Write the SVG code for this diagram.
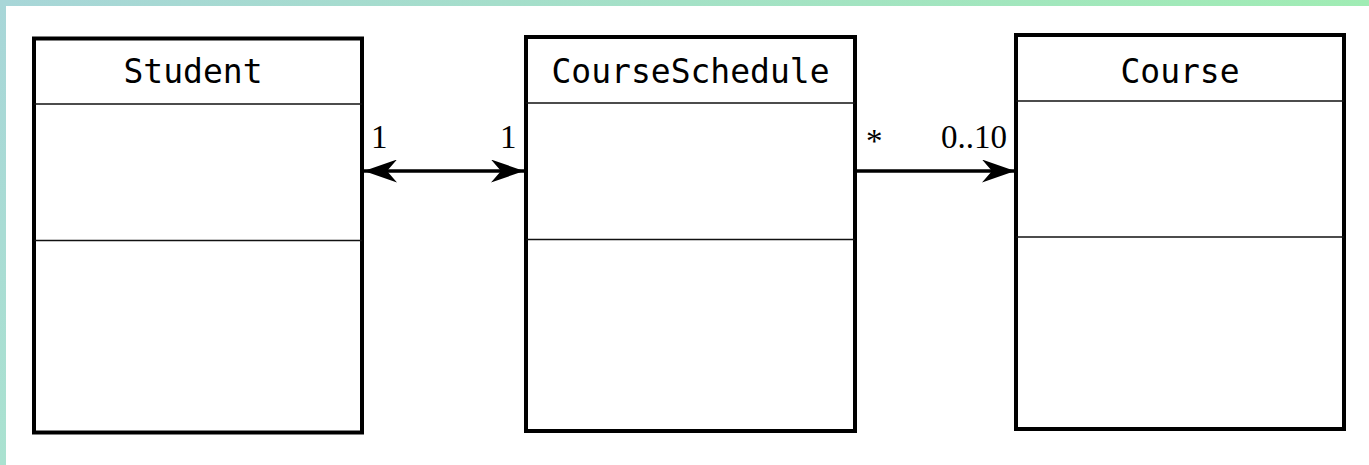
<svg xmlns="http://www.w3.org/2000/svg" width="1369" height="465" viewBox="0 0 1369 465">
  <defs>
    <linearGradient id="edgeTop" gradientUnits="userSpaceOnUse" x1="0" y1="0" x2="1369" y2="0">
      <stop offset="0" stop-color="#a8d6d8"/>
      <stop offset="1" stop-color="#a0ecb4"/>
    </linearGradient>
    <linearGradient id="edgeLeft" gradientUnits="userSpaceOnUse" x1="0" y1="0" x2="0" y2="465">
      <stop offset="0" stop-color="#a8d6d8"/>
      <stop offset="1" stop-color="#aae2d0"/>
    </linearGradient>
    <marker id="head" viewBox="0 0 33 23" refX="33" refY="11.5" markerWidth="33" markerHeight="23" markerUnits="userSpaceOnUse" orient="auto-start-reverse">
      <path d="M0,0 L33,11.5 L0,23 L10,11.5 Z" fill="#000"/>
    </marker>
    <style>
      .box { fill: #fff; stroke: #000; stroke-width: 4; }
      .sep { stroke: #111; stroke-width: 1.6; }
      .name { font-family: "DejaVu Sans Mono", monospace; font-size: 33px; fill: #000; text-anchor: middle; }
      .mult { font-family: "Liberation Serif", serif; font-size: 33px; fill: #000; }
      .assoc { stroke: #000; stroke-width: 3.5; fill: none; }
    </style>
  </defs>

  <!-- page frame -->
  <rect x="0" y="0" width="1369" height="465" fill="#fff"/>
  <rect x="0" y="0" width="1369" height="6" fill="url(#edgeTop)"/>
  <rect x="0" y="0" width="6" height="465" fill="url(#edgeLeft)"/>

  <g id="student">
    <rect class="box" x="34" y="38.5" width="328" height="394"/>
    <line class="sep" x1="34" y1="104" x2="362" y2="104"/>
    <line class="sep" x1="34" y1="240.5" x2="362" y2="240.5"/>
    <text class="name" x="193" y="83">Student</text>
  </g>

  <g id="courseSchedule">
    <rect class="box" x="526" y="37" width="329" height="394"/>
    <line class="sep" x1="526" y1="103" x2="855" y2="103"/>
    <line class="sep" x1="526" y1="239.5" x2="855" y2="239.5"/>
    <text class="name" x="690.5" y="83">CourseSchedule</text>
  </g>

  <g id="course">
    <rect class="box" x="1016" y="35" width="328" height="394"/>
    <line class="sep" x1="1016" y1="101" x2="1344" y2="101"/>
    <line class="sep" x1="1016" y1="237" x2="1344" y2="237"/>
    <text class="name" x="1180" y="83">Course</text>
  </g>

  <g id="connectors">
    <line class="assoc" x1="364" y1="171" x2="524" y2="171" marker-start="url(#head)" marker-end="url(#head)"/>
    <line class="assoc" x1="857" y1="171" x2="1015" y2="171" marker-end="url(#head)"/>
    <text class="mult" x="371" y="148">1</text>
    <text class="mult" x="500" y="148">1</text>
    <text class="mult" x="866" y="152">*</text>
    <text class="mult" x="1007" y="148" text-anchor="end">0..10</text>
  </g>
</svg>
